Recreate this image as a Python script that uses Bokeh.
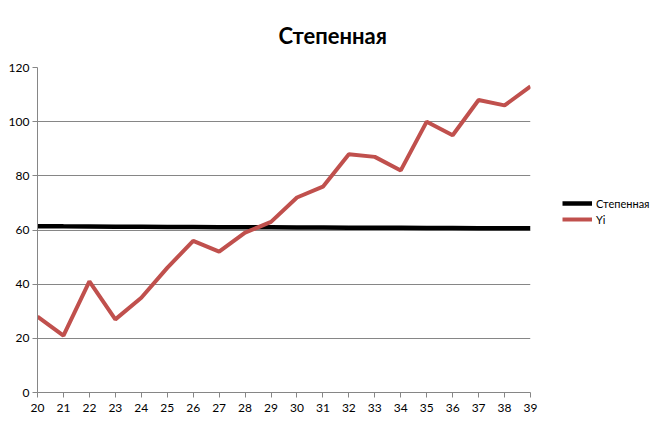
from bokeh.plotting import figure
from bokeh.models import Range1d, SingleIntervalTicker, Legend, LegendItem, Title
from bokeh.embed import file_html
from bokeh.resources import INLINE

x_vals = list(range(20, 40))
power_fit = [61.40, 61.34, 61.29, 61.24, 61.19, 61.14, 61.10, 61.06, 61.02, 60.98,
             60.94, 60.90, 60.86, 60.83, 60.79, 60.76, 60.73, 60.69, 60.66, 60.63]
yi = [28, 21, 41, 27, 35, 46, 56, 52, 59, 63, 72, 76, 88, 87, 82, 100, 95, 108, 106, 113]

FONT = "Lato"

p = figure(width=665, height=423, frame_width=493, frame_height=325,
           output_backend="svg", toolbar_location=None,
           x_range=Range1d(20, 39), y_range=Range1d(0, 120),
           min_border_left=37, min_border_right=135, min_border_top=67, min_border_bottom=31)
p.outline_line_color = None
p.title = Title(text="Степенная", align="left", offset=241, standoff=37,
                text_font=FONT, text_font_size="22px", text_font_style="bold", text_color="#000000")

r1 = p.line(x_vals, power_fit, line_color="#000000", line_width=4.5)
r2 = p.line(x_vals, yi, line_color="#C0504D", line_width=4)

p.xaxis.ticker = SingleIntervalTicker(interval=1)
p.yaxis.ticker = SingleIntervalTicker(interval=20)
for ax in (p.xaxis[0], p.yaxis[0]):
    ax.axis_line_color = "#868686"
    ax.major_tick_line_color = "#868686"
    ax.minor_tick_line_color = None
    ax.major_tick_in = 0
    ax.major_tick_out = 5
    ax.major_label_text_font = FONT
    ax.major_label_text_font_size = "12px"
    ax.major_label_text_color = "#000000"
    ax.major_label_standoff = 3
p.xaxis.major_label_standoff = 6
p.xgrid.grid_line_color = None
p.ygrid.grid_line_color = "#868686"
p.ygrid.grid_line_width = 1

legend = Legend(items=[LegendItem(label="Степенная", renderers=[r1]),
                       LegendItem(label="Yi", renderers=[r2])],
                location=(32, 165), padding=0, spacing=0, margin=0,
                glyph_width=30, glyph_height=16, label_height=16, label_standoff=4,
                label_text_font=FONT, label_text_font_size="11px", label_text_color="#000000",
                border_line_alpha=0, background_fill_alpha=0)
p.add_layout(legend, "right")

open("out.html", "w").write(file_html(p, INLINE))
